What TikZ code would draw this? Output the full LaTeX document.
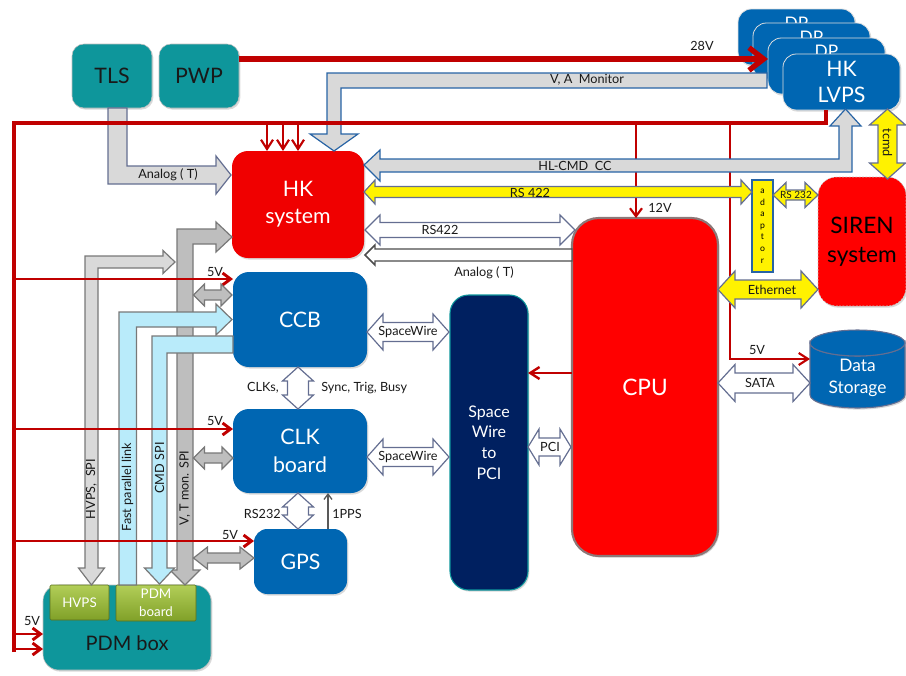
\documentclass[tikz,border=0pt]{standalone}
\usepackage{fontspec}
\setmainfont{Lato}
\usetikzlibrary{arrows.meta,shadows}

\definecolor{redl}{RGB}{192,0,0}
\definecolor{hkred}{RGB}{240,0,0}
\definecolor{cpured}{RGB}{255,0,0}
\definecolor{tealc}{RGB}{14,150,155}
\definecolor{boxblue}{RGB}{0,102,178}
\definecolor{navy}{RGB}{0,32,96}
\definecolor{lgray}{RGB}{217,217,217}
\definecolor{mgray}{RGB}{190,190,190}
\definecolor{lblue}{RGB}{185,235,250}
\definecolor{slate}{RGB}{100,110,145}
\definecolor{blueb}{RGB}{40,100,165}
\definecolor{greenc}{RGB}{155,187,60}
\definecolor{greentop}{RGB}{178,206,88}
\definecolor{greenbot}{RGB}{128,160,40}
\definecolor{colgray}{RGB}{120,120,120}
\definecolor{cpuedge}{RGB}{140,120,120}
\definecolor{txt}{RGB}{25,25,25}

\newcommand{\fBig}{\fontsize{16}{20}\selectfont}
\newcommand{\fLbl}{\fontsize{9.5}{11}\selectfont}

% double-headed horizontal block arrow: style, xL, xR, y, shaft half, head half, head length
\newcommand{\blkdh}[7]{\filldraw[#1] (#2,#4) -- ({#2+#7},{#4-#6}) -- ({#2+#7},{#4-#5}) -- ({#3-#7},{#4-#5}) -- ({#3-#7},{#4-#6}) -- (#3,#4) -- ({#3-#7},{#4+#6}) -- ({#3-#7},{#4+#5}) -- ({#2+#7},{#4+#5}) -- ({#2+#7},{#4+#6}) -- cycle;}
% double-headed vertical block arrow: style, x, yTop, yBottom, shaft half, head half, head length
\newcommand{\blkdv}[7]{\filldraw[#1] (#2,#3) -- ({#2+#6},{#3+#7}) -- ({#2+#5},{#3+#7}) -- ({#2+#5},{#4-#7}) -- ({#2+#6},{#4-#7}) -- (#2,#4) -- ({#2-#6},{#4-#7}) -- ({#2-#5},{#4-#7}) -- ({#2-#5},{#3+#7}) -- ({#2-#6},{#3+#7}) -- cycle;}

\begin{document}
\begin{tikzpicture}[x=0.75pt,y=-0.75pt,
  box/.style={rounded corners=#1, inner sep=0pt, outer sep=0pt, align=center, font=\fBig, text=white,
    drop shadow={shadow xshift=1pt, shadow yshift=-1.2pt, opacity=0.3}},
  box/.default=11pt,
  dpbox/.style={box=10pt, fill=boxblue, draw=white!75!gray, line width=0.6pt, minimum width=117*0.75pt, minimum height=56*0.75pt},
  dptext/.style={inner sep=0pt, font=\fontsize{13}{15}\selectfont, text=white, text height=9pt, text depth=0pt},
  lbl/.style={font=\fLbl, text=txt, inner sep=0pt},
  blk/.style={line width=0.9pt, line join=miter},
  graybl/.style={blk, fill=lgray, draw=blueb},
  grayslate/.style={blk, fill=lgray, draw=slate},
  whitesl/.style={blk, fill=white, draw=slate},
  yel/.style={blk, fill=yellow, draw=slate},
  lgcol/.style={blk, fill=lgray, draw=colgray},
  mgcol/.style={blk, fill=mgray, draw=colgray},
  lbcol/.style={blk, fill=lblue, draw=colgray},
  pw/.style={draw=redl, line width=2.2pt, line join=miter},
  pwtip/.style={-{Straight Barb[length=6pt,width=9pt]}},
  greenbox/.style={top color=greentop, bottom color=greenbot, draw=greenbot!70!black, line width=0.4pt,
    rounded corners=1pt, inner sep=0pt, text=white, align=center, font=\fontsize{10}{13.5}\selectfont}
]
\useasboundingbox (0,0) rectangle (906,675);

% ---------------- boxes ----------------
\node[box=9pt, fill=tealc, text=txt, draw=gray!50, minimum width=80*0.75pt, minimum height=64*0.75pt] (tls) at (112,76) {TLS};
\node[box=9pt, fill=tealc, text=txt, draw=gray!50, minimum width=80*0.75pt, minimum height=64*0.75pt] (pwp) at (199,76) {PWP};

\node[dpbox] (dp1) at (796.5,37) {};
\node[dptext] (dp1t) at (796.5,23) {DP};
\node[dpbox] (dp2) at (811.5,51) {};
\node[dptext] (dp2t) at (811.5,37) {DP};
\node[dpbox] (dp3) at (826.5,66) {};
\node[dptext] (dp3t) at (826.5,51.5) {DP};
\node[dpbox, align=center, font=\fontsize{16}{19.5}\selectfont, text=white] (lvps) at (841.5,82) {HK\\LVPS};

\node[box=12pt, fill=hkred, minimum width=132*0.75pt, minimum height=107*0.75pt] (hk) at (298,204.5) {HK\\system};
\node[box=12pt, fill=boxblue, minimum width=134*0.75pt, minimum height=95*0.75pt] (ccb) at (300,319.5) {CCB};
\node[box=12pt, fill=boxblue, minimum width=134*0.75pt, minimum height=84*0.75pt, font=\fontsize{16}{21}\selectfont] (clk) at (300,451) {CLK\\board};
\node[box=10pt, fill=boxblue, minimum width=93*0.75pt, minimum height=65*0.75pt] (gps) at (300.5,561.5) {GPS};
\node[box=14pt, fill=navy, draw=tealc, line width=0.8pt, minimum width=78*0.75pt, minimum height=295*0.75pt, font=\fontsize{12}{15.5}\selectfont] (swpci) at (489,442.5) {Space\\Wire\\to\\PCI};
\node[box=20pt, fill=cpured, draw=cpuedge, line width=1.6pt, minimum width=146*0.75pt, minimum height=338*0.75pt, font=\fontsize{17}{20}\selectfont] (cpu) at (645,387) {CPU};
\node[box=14pt, fill=cpured, text=black, draw=gray!45, dash pattern=on 1.5pt off 1pt, minimum width=88*0.75pt, minimum height=129*0.75pt, font=\fontsize{17}{22}\selectfont] (siren) at (862,241.5) {SIREN\\system};
\node[fill=yellow, draw=blueb, line width=0.8pt, minimum width=21*0.75pt, minimum height=92*0.75pt, inner sep=0pt, align=center, font=\fontsize{6.5}{8.7}\selectfont] (adp) at (762.5,226) {a\\d\\a\\p\\t\\o\\r};

% data storage cylinder
\filldraw[fill=boxblue, draw=slate, line width=0.8pt, drop shadow={shadow xshift=1pt, shadow yshift=-1.2pt, opacity=0.3}]
  (810,343) -- (810,395) arc[start angle=180, end angle=360, x radius=35.625pt, y radius=9.75pt]
  -- (905,343) arc[start angle=0, end angle=-180, x radius=35.625pt, y radius=9.75pt] -- cycle;
\filldraw[fill=boxblue, draw=slate, line width=0.8pt] (857.5,343) ellipse [x radius=35.625pt, y radius=9.75pt];
\node[minimum width=95*0.75pt, minimum height=78*0.75pt, inner sep=0pt, outer sep=0pt] (ds) at (857.5,369) {};
\node[font=\fontsize{13}{17}\selectfont, text=white, align=center, inner sep=0pt] (dsl) at (857.5,378) {Data\\Storage};

% PDM box
\node[box=12pt, fill=tealc, draw=gray!50, minimum width=168*0.75pt, minimum height=85*0.75pt] (pdmbox) at (127,627.5) {};
\node[lbl, font=\fontsize{15}{18}\selectfont] (pdml) at (127,643) {PDM box};
\node[greenbox, minimum width=59*0.75pt, minimum height=35*0.75pt] (hvps) at (79.5,602.5) {HVPS};
\node[greenbox, minimum width=80*0.75pt, minimum height=36*0.75pt] (pdmb) at (156,603) {PDM\\board};

% ---------------- left column block arrows ----------------
\filldraw[lgcol] (85,568) -- (85,256) -- (163,256) -- (163,250.5) -- (175,262) -- (163,273.5) -- (163,268) -- (98,268) -- (98,568) -- (104.5,568) -- (91.5,585) -- (78.5,568) -- cycle;
\filldraw[mgcol] (177,570) -- (177,229) -- (216,229) -- (216,222) -- (232,237) -- (216,252) -- (216,244) -- (193,244) -- (193,570) -- (200,570) -- (185,585) -- (170,570) -- cycle;
\filldraw[lbcol] (119,585) -- (119,312) -- (216,312) -- (216,304) -- (232,319.5) -- (216,335) -- (216,327) -- (136.5,327) -- (136.5,585) -- cycle;
\filldraw[lbcol] (233,336) -- (152,336) -- (152,568) -- (144.5,568) -- (159.5,584) -- (174.5,568) -- (167,568) -- (167,353) -- (233,353) -- cycle;
\node[lbl, rotate=90] (lhv) at (91.5,489) {HVPS,\ \ SPI};
\node[lbl, rotate=90] (lfp) at (127.5,487) {Fast parallel link};
\node[lbl, rotate=90] (lcmd) at (159.5,468) {CMD SPI};
\node[lbl, rotate=90] (lvt) at (185,488) {V, T mon. SPI};

% TLS analog and V,A monitor
\filldraw[grayslate] (108,108) -- (108,184) -- (216,184) -- (216,194) -- (231,175) -- (216,156) -- (216,166) -- (127,166) -- (127,108) -- cycle;
\node[lbl] (lan1) at (168,175) {Analog ( T)};
\filldraw[graybl] (767,73) -- (327,73) -- (327,134) -- (310,134) -- (334,151) -- (358,134) -- (341,134) -- (341,88) -- (767,88) -- cycle;
\node[lbl] (lva) at (587,80) {V, A\ \ Monitor};

% ---------------- power lines ----------------
\coordinate (bT) at (14,123);
\coordinate (bB) at (14,652);
\coordinate (bR) at (826,123);
\draw[pw, line width=3pt] (bB) -- (bT) -- (bR) -- (bR |- lvps.south);
\coordinate (p28) at (239,59);
\draw[pw, line width=4pt, -{Straight Barb[length=11pt,width=17pt]}] (p28) -- (p28 -| dp3.west);
\node[lbl] (l28) at (702,46) {28V};

\foreach \xx in {267,283,298} {
  \coordinate (hb\xx) at (\xx,123);
  \draw[pw, line width=1.6pt, -{Straight Barb[length=7pt,width=9pt]}] (hb\xx) -- (hb\xx |- hk.north);
}
\coordinate (c12) at (636,123);
\draw[pw, line width=1.6pt, -{Straight Barb[length=6pt,width=9pt]}] (c12) -- (c12 |- cpu.north);
\node[lbl] (l12) at (660,208) {12V};
\coordinate (c5a) at (730,123);
\coordinate (c5b) at (730,359);
\draw[pw, line width=1.6pt, -{Straight Barb[length=7pt,width=9pt]}] (c5a) -- (c5b) -- (c5b -| ds.west);
\node[lbl] (l5ds) at (757,350) {5V};

\coordinate (v1) at (14,279);
\coordinate (v2) at (14,429);
\coordinate (v3) at (14,541);
\coordinate (v4) at (14,634);
\coordinate (v5) at (14,649);
\draw[pw, pwtip] (v1) -- (v1 -| ccb.west);
\draw[pw, pwtip] (v2) -- (v2 -| clk.west);
\draw[pw, pwtip] (v3) -- (v3 -| gps.west);
\draw[pw, pwtip] (v4) -- (v4 -| pdmbox.west);
\draw[pw, pwtip] (v5) -- (v5 -| pdmbox.west);
\node[lbl] (l5ccb) at (215,272) {5V};
\node[lbl] (l5clk) at (215,421) {5V};
\node[lbl] (l5gps) at (230,535) {5V};
\node[lbl] (l5pdm) at (32,621) {5V};

\coordinate (cs) at (0,373);
\draw[pw, line width=1.8pt, -{Straight Barb[length=7pt,width=9pt]}] (cs -| cpu.west) -- (cs -| swpci.east);

% ---------------- right side block arrows ----------------
\filldraw[graybl] (364,165) -- (380,150) -- (380,159) -- (839,159) -- (839,126) -- (830,126) -- (845.5,109) -- (861,126) -- (852,126) -- (852,172) -- (380,172) -- (380,181) -- cycle;
\node[lbl] (lhl) at (575,166) {HL-CMD\ \ CC};

\blkdh{yel}{364}{752}{192}{5.5}{12}{11}
\node[lbl] (lrs422y) at (530,193) {RS 422};
\blkdh{whitesl}{365}{575}{230}{7.5}{15}{15}
\node[lbl] (lrs422) at (440,230) {RS422};
\filldraw[blk, fill=white, draw=black!70, line width=1.1pt] (365,255) -- (375,245) -- (375,249) -- (572,249) -- (572,261) -- (375,261) -- (375,265) -- cycle;
\node[lbl] (lan2) at (484,273) {Analog ( T)};

\blkdh{whitesl}{367}{449}{332}{9.5}{18}{16}
\node[lbl] (lsw1) at (408,332) {SpaceWire};
\blkdh{whitesl}{367}{449}{457}{9.5}{18}{16}
\node[lbl] (lsw2) at (408,457) {SpaceWire};
\blkdh{whitesl}{528}{571}{447}{9}{18}{11}
\node[lbl] (lpci) at (550,447) {PCI};
\blkdh{whitesl}{718}{810}{383}{10}{18.5}{17}
\node[lbl] (lsata) at (760,383) {SATA};
\blkdh{yel}{718}{818}{289.5}{9.5}{18.5}{17}
\node[lbl] (leth) at (772,289.5) {Ethernet};
\blkdh{yel}{773}{818}{195}{5}{12.5}{13}
\node[lbl, font=\fontsize{7.5}{9}\selectfont] (lrs232y) at (796,195) {RS 232};
\blkdv{yel}{887.5}{109}{179}{9.5}{18}{16}
\node[lbl, rotate=-90] (ltcmd) at (887.5,143) {tcmd};

\blkdv{whitesl}{298}{367}{409}{10.5}{15.5}{14}
\node[lbl, anchor=east] (lclks) at (279,388) {CLKs,};
\node[lbl, anchor=west] (lsync) at (321,388) {Sync, Trig, Busy};
\blkdv{whitesl}{298}{493}{529}{10.5}{15.5}{14}
\node[lbl, anchor=east] (lrs232) at (281,514) {RS232};
\coordinate (pp) at (328,0);
\draw[line width=1pt, draw=black!65, -{Straight Barb[length=4pt,width=6pt]}] (pp |- gps.north) -- (pp |- clk.south);
\node[lbl, anchor=west] (l1pps) at (332,514) {1PPS};

\blkdh{mgcol}{193.5}{232}{295}{5}{11}{11}
\blkdh{mgcol}{193.5}{233}{458}{5}{11}{11}
\blkdh{mgcol}{193.5}{254}{558}{5}{11}{14}

\end{tikzpicture}
\end{document}
